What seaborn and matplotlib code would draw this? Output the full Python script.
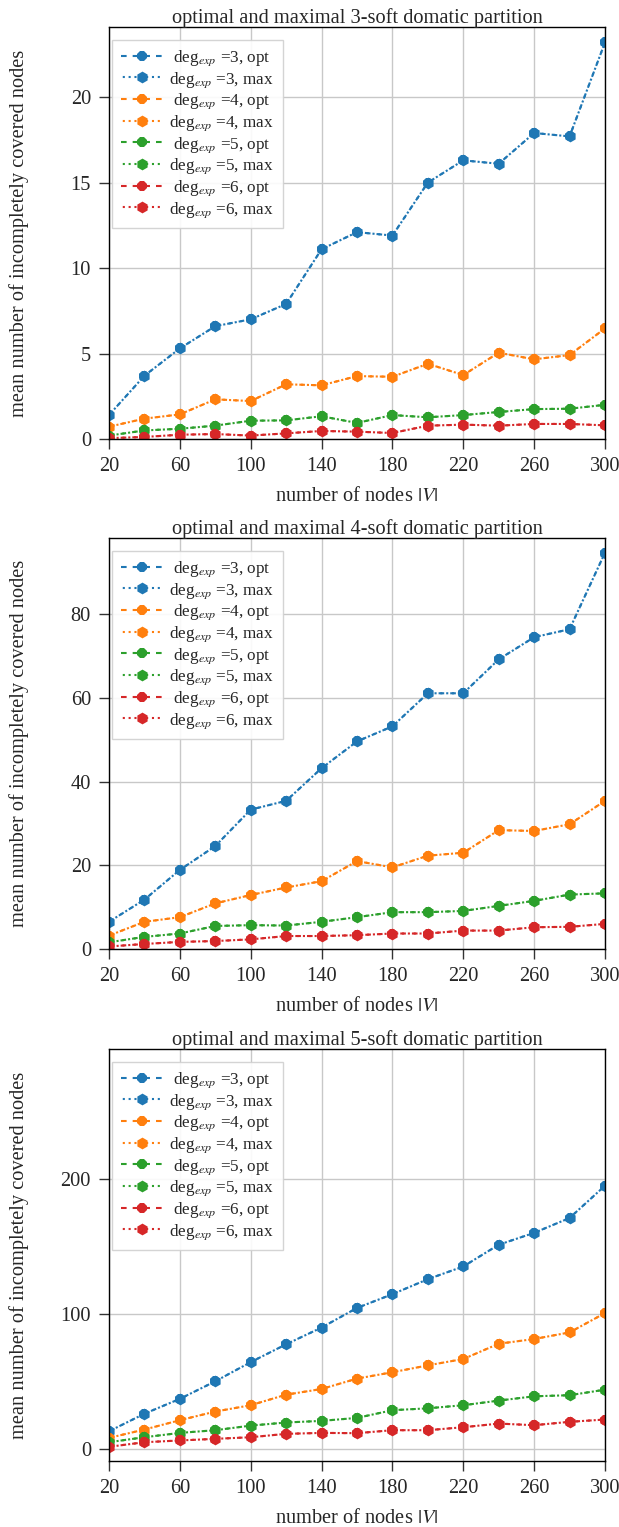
import matplotlib
matplotlib.use("Agg")
import matplotlib.pyplot as plt
import seaborn as sns
import numpy as np
import pandas as pd

nodes = [20, 40, 60, 80, 100, 120, 140, 160, 180, 200, 220, 240, 260, 280, 300]
degs = [3, 4, 5, 6]

# 3-soft domatic partition
k3_deg3 = [1.4, 3.7, 5.3, 6.6, 7.0, 7.9, 11.1, 12.1, 11.9, 15.0, 16.3, 16.1, 17.9, 17.7, 23.2]
k3_deg4 = [0.72, 1.19, 1.44, 2.32, 2.22, 3.2, 3.14, 3.68, 3.64, 4.4, 3.74, 5.05, 4.66, 4.91, 6.47]
k3_deg5 = [0.2, 0.5, 0.6, 0.78, 1.07, 1.09, 1.33, 0.94, 1.4, 1.27, 1.4, 1.58, 1.75, 1.77, 2.0]
k3_deg6 = [0.05, 0.12, 0.25, 0.29, 0.2, 0.33, 0.47, 0.43, 0.35, 0.78, 0.84, 0.78, 0.88, 0.88, 0.8]

# 4-soft domatic partition
k4_deg3 = [6.5, 11.8, 18.9, 24.6, 33.3, 35.4, 43.2, 49.6, 53.2, 61.1, 61.1, 69.2, 74.5, 76.4, 94.7]
k4_deg4 = [3.2, 6.5, 7.6, 10.9, 12.9, 14.7, 16.2, 21.0, 19.5, 22.3, 23.0, 28.4, 28.2, 29.8, 35.4]
k4_deg5 = [1.6, 2.9, 3.7, 5.5, 5.7, 5.6, 6.5, 7.6, 8.8, 8.8, 9.1, 10.3, 11.5, 13.0, 13.3]
k4_deg6 = [0.6, 1.2, 1.7, 1.9, 2.3, 3.1, 3.1, 3.3, 3.7, 3.7, 4.4, 4.4, 5.2, 5.3, 6.0]

# 5-soft domatic partition
k5_deg3 = [13.0, 26.0, 37.0, 50.0, 64.2, 77.4, 89.8, 104.3, 114.5, 125.6, 135.0, 151.1, 159.9, 170.9, 194.8]
k5_deg4 = [8.1, 14.3, 21.2, 27.6, 32.3, 40.1, 44.3, 52.0, 56.7, 61.8, 66.5, 77.8, 81.3, 86.2, 100.5]
k5_deg5 = [4.9, 8.6, 11.8, 13.8, 17.2, 19.5, 20.7, 22.9, 28.6, 30.0, 32.3, 35.7, 38.9, 39.7, 43.8]
k5_deg6 = [1.5, 4.9, 6.2, 7.4, 8.6, 11.1, 11.8, 11.6, 13.8, 13.8, 16.0, 18.7, 17.5, 20.0, 21.7]

# optimal and maximal partitions coincide in the figure
opt = {3: [k3_deg3, k3_deg4, k3_deg5, k3_deg6],
       4: [k4_deg3, k4_deg4, k4_deg5, k4_deg6],
       5: [k5_deg3, k5_deg4, k5_deg5, k5_deg6]}
mx = opt

ks = [3, 4, 5]
titles = [f"optimal and maximal {k}-soft domatic partition" for k in ks]
xticks = [20, 60, 100, 140, 180, 220, 260, 300]
yticks = {3: [0, 5, 10, 15, 20], 4: [0, 20, 40, 60, 80], 5: [0, 100, 200]}
ylims = {3: (0, 24.1), 4: (0, 98.2), 5: (-9, 296)}
colors = ["#1f77b4", "#ff7f0e", "#2ca02c", "#d62728"]

sns.set_theme(style="whitegrid")
plt.rcParams["font.family"] = ["Liberation Serif", "DejaVu Serif"]
plt.rcParams["mathtext.fontset"] = "stix"
plt.rcParams["axes.edgecolor"] = "black"
plt.rcParams["grid.color"] = "#c8c8c8"

FS = 14.7
fig = plt.figure(figsize=(6.19, 15.27), dpi=100)
W, H = 619, 1527
boxes = [(27, 439), (538, 949), (1049, 1461)]
left, right = 109, 605
aw = right - left

opt_style = (0, (2.7, 2.9))
max_style = (1.95, (1.0, 1.8))

for i, k in enumerate(ks):
    top, bot = boxes[i]
    ah = bot - top
    ax = fig.add_axes([left / W, 1 - bot / H, aw / W, ah / H])
    for j, d in enumerate(degs):
        sns.lineplot(x=nodes, y=opt[k][j], ax=ax, color=colors[j], linestyle=opt_style,
                     marker="8", markersize=8.5, markeredgewidth=0, linewidth=1.5,
                     label=rf" deg$_{{exp}}$ ={d}, opt")
        sns.lineplot(x=nodes, y=mx[k][j], ax=ax, color=colors[j], linestyle=max_style,
                     marker="h", markersize=8.5, markeredgewidth=0, linewidth=1.5,
                     label=rf"deg$_{{exp}}$ ={d}, max")
    ax.set_xlim(20, 300)
    ax.set_ylim(*ylims[k])
    ax.set_xticks(xticks)
    ax.set_yticks(yticks[k])
    ax.tick_params(axis="both", which="major", labelsize=FS, length=7, width=1,
                   pad=6, direction="out", bottom=True, left=True, color="#333333")
    ax.set_title(titles[i], fontsize=FS, pad=3)
    ax.set_xlabel(r"number of nodes $|V|$", fontsize=FS, labelpad=8)
    ax.set_ylabel("mean number of incompletely covered nodes", fontsize=FS)
    ax.yaxis.set_label_coords(-80 / aw, 0.5)
    for s in ax.spines.values():
        s.set_color("black")
        s.set_linewidth(1.0)
    ax.grid(True, color="#c8c8c8", linewidth=1.0)
    ax.legend(loc="upper left", bbox_to_anchor=(3 / aw, 1 - 13 / ah),
              borderaxespad=0, fontsize=12.3, fancybox=False, framealpha=0.9,
              edgecolor="#d0d0d0", handlelength=2.5, handletextpad=0.35,
              borderpad=0.5, labelspacing=0.12)

fig.savefig("out.png", dpi=100)
